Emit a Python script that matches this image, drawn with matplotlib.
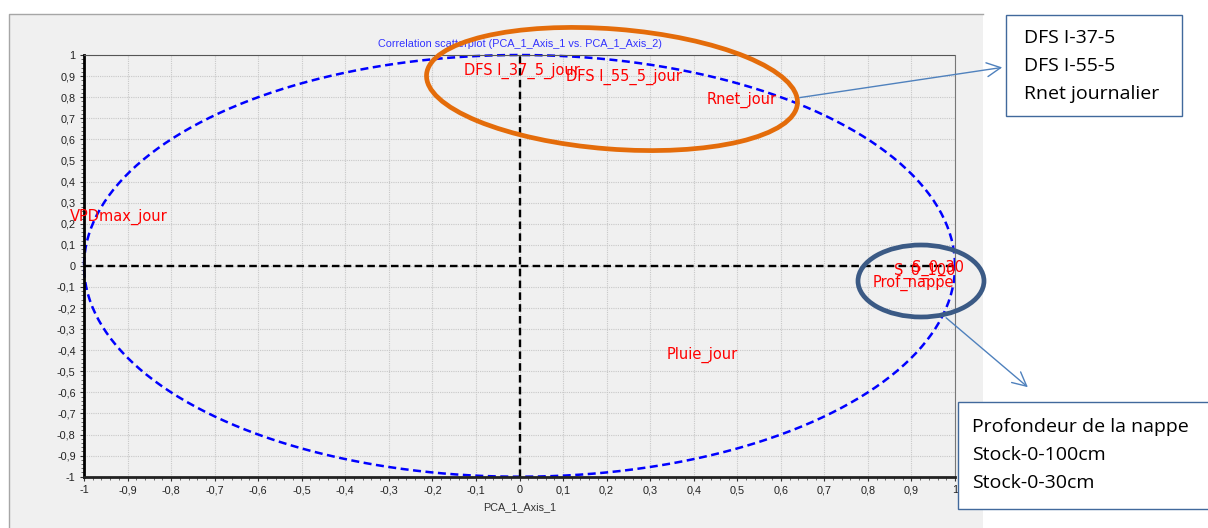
import numpy as np
import matplotlib.pyplot as plt
from matplotlib.patches import Ellipse, Rectangle, FancyArrowPatch
from matplotlib.ticker import MultipleLocator, FuncFormatter

# variable coordinates on the correlation circle
var_names = ["VPDmax_jour", "DFS I_37_5_jour", "DFS I_55_5_jour", "Rnet_jour",
             "Pluie_jour", "S_0_30", "S_0_100", "Prof_nappe"]
axis1 = [-0.92, 0.005, 0.24, 0.51, 0.42, 0.96, 0.93, 0.905]
axis2 = [0.23, 0.925, 0.895, 0.785, -0.42, -0.01, -0.025, -0.08]

box1_lines = ["DFS I-37-5", "DFS I-55-5", "Rnet journalier"]
box2_lines = ["Profondeur de la nappe", "Stock-0-100cm", "Stock-0-30cm"]

W, H = 1208, 528
fig = plt.figure(figsize=(W / 100, H / 100), dpi=100)
fig.patch.set_facecolor("white")

# gray chart panel
bg = fig.add_axes([0, 0, 1, 1], zorder=0)
bg.set_xlim(0, W)
bg.set_ylim(H, 0)
bg.axis("off")
bg.add_patch(Rectangle((9, 14), 974, 520, facecolor="#f0f0f0", edgecolor="none"))
bg.plot([9, 9, 983], [528, 14, 14], color="#a6a6a6", lw=1)

ax = fig.add_axes([84 / W, (H - 476.7) / H, 871 / W, 421.7 / H], zorder=1)
ax.set_facecolor("#f0f0f0")
ax.set_xlim(-1, 1)
ax.set_ylim(-1, 1)

fmt = FuncFormatter(lambda v, p: ("%.1f" % v).replace(".", ",").replace(",0", "") if abs(v) > 1e-9 else "0")
for a in (ax.xaxis, ax.yaxis):
    a.set_major_locator(MultipleLocator(0.1))
    a.set_minor_locator(MultipleLocator(0.02))
    a.set_major_formatter(fmt)
ax.tick_params(which="major", length=3, width=0.8, color="#333333", labelsize=7.8,
               labelcolor="#222222", pad=3)
ax.tick_params(which="minor", length=2, width=0.6, color="#555555")
for lab in ax.get_xticklabels() + ax.get_yticklabels():
    lab.set_family("Liberation Sans")

ax.grid(True, which="major", color="#c8c8c8", ls=(0, (1, 1)), lw=0.8)
ax.set_axisbelow(True)
ax.spines["left"].set_linewidth(2)
ax.spines["bottom"].set_linewidth(2)
ax.spines["left"].set_color("black")
ax.spines["bottom"].set_color("#222222")
ax.spines["top"].set_color("#555555")
ax.spines["top"].set_linestyle((0, (1, 1)))
ax.spines["right"].set_color("#777777")

t = np.linspace(0, 2 * np.pi, 400)
ax.plot(np.cos(t), np.sin(t), color="#0000ff", ls=(0, (3.2, 1.8)), lw=1.8, clip_on=False)
ax.axhline(0, color="black", ls=(0, (3.2, 1.8)), lw=1.7)
ax.axvline(0, color="black", ls=(0, (3.2, 1.8)), lw=1.7)

for name, x, y in zip(var_names, axis1, axis2):
    ax.text(x, y, name, color="#ff0000", fontsize=10.5, ha="center", va="center",
            family="DejaVu Sans", clip_on=False)

ax.set_title("Correlation scatterplot (PCA_1_Axis_1 vs. PCA_1_Axis_2)", color="#3333ff",
             fontsize=7.8, family="Liberation Sans", pad=6)
ax.set_xlabel("PCA_1_Axis_1", fontsize=7.8, color="#333333", family="Liberation Sans", labelpad=5)

# overlay annotations in pixel coords
ov = fig.add_axes([0, 0, 1, 1], zorder=3)
ov.set_xlim(0, W)
ov.set_ylim(H, 0)
ov.axis("off")
ov.patch.set_alpha(0)

ov.add_patch(Ellipse((612, 89), 372, 120, angle=4.5, fill=False, edgecolor="#e46c0a", lw=3.4))
ov.add_patch(Ellipse((921, 281), 126, 72, angle=0, fill=False, edgecolor="#3b5a85", lw=3.4))

arrow_col = "#4f81bd"
ov.add_patch(FancyArrowPatch((797, 98), (1005, 67), arrowstyle="->,head_length=10,head_width=5",
                             color=arrow_col, lw=1, mutation_scale=1))
ov.add_patch(FancyArrowPatch((944, 316), (1030, 389), arrowstyle="->,head_length=10,head_width=5",
                             color=arrow_col, lw=1, mutation_scale=1))

ov.add_patch(Rectangle((1006, 15), 176, 101, facecolor="white", edgecolor="#41699c", lw=1))
ov.add_patch(Rectangle((958, 402), 260, 107, facecolor="white", edgecolor="#41699c", lw=1))
for i, s in enumerate(box1_lines):
    ov.text(1024, 38 + i * 28, s, fontsize=14, va="center", ha="left", family="Open Sans")
for i, s in enumerate(box2_lines):
    ov.text(972, 427 + i * 28, s, fontsize=14, va="center", ha="left", family="Open Sans")

fig.savefig("out.png", dpi=100)
